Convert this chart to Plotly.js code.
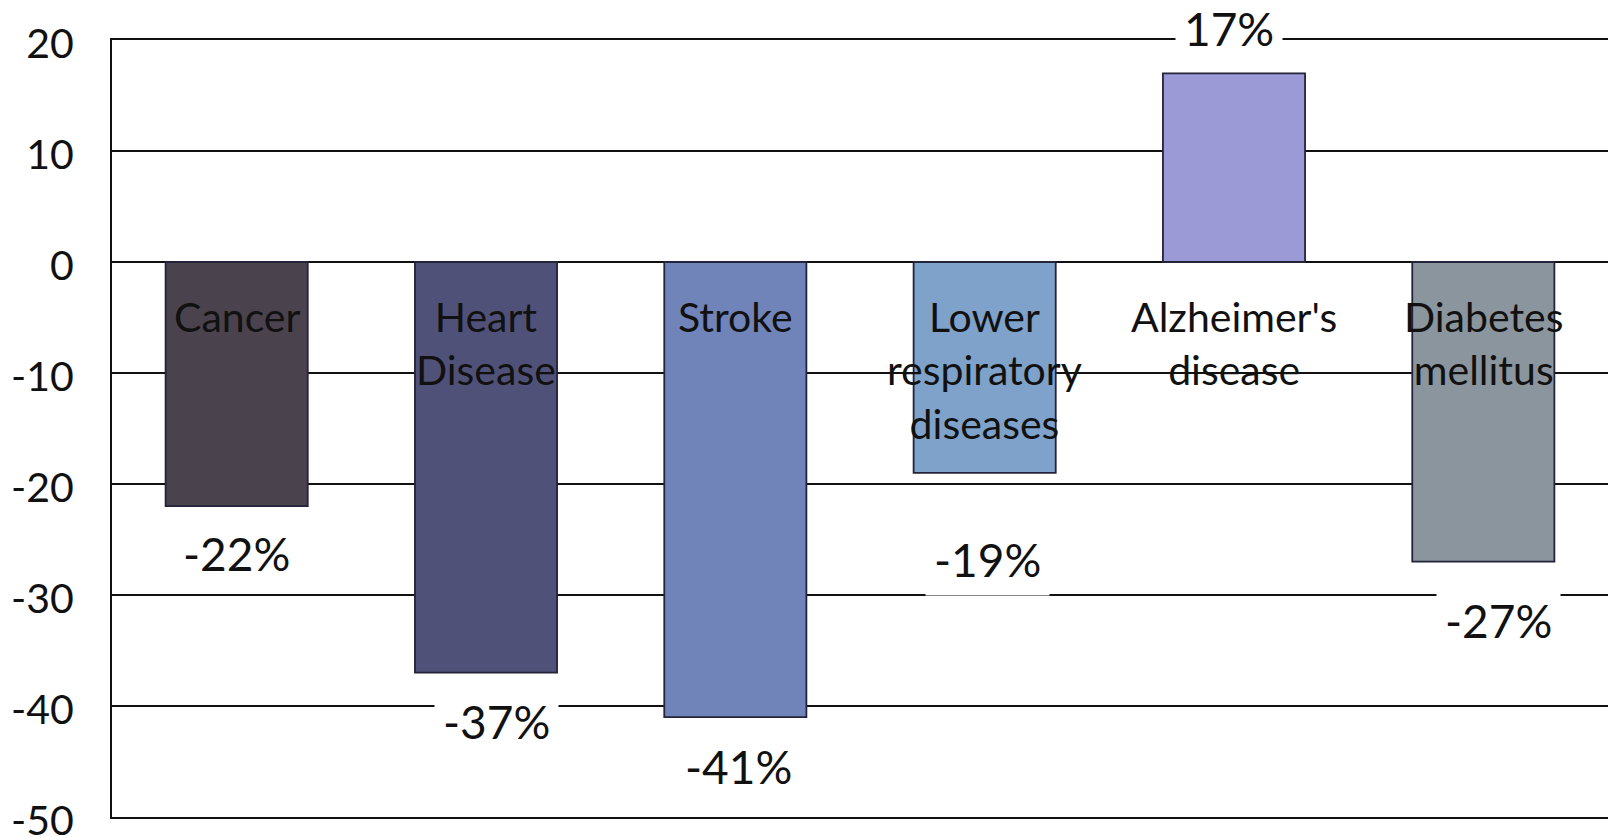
<!DOCTYPE html>
<html>
<head>
<meta charset="utf-8">
<script src="https://cdn.plot.ly/plotly-3.0.1.min.js"></script>
<style>
  html, body { margin: 0; padding: 0; background: #ffffff; }
  #chart { width: 1608px; height: 837px; }
</style>
</head>
<body>
<div id="chart"></div>
<script>
// ---- data ----
const categories = ["Cancer", "Heart Disease", "Stroke", "Lower respiratory diseases", "Alzheimer's disease", "Diabetes mellitus"];
const categoryLabels = ["Cancer", "Heart<br>Disease", "Stroke", "Lower<br>respiratory<br>diseases", "Alzheimer's<br>disease", "Diabetes<br>mellitus"];
const changePct = [-22, -37, -41, -19, 17, -27];
const valueLabels = ["-22%", "-37%", "-41%", "-19%", "17%", "-27%"];
const yTickVals = [20, 10, 0, -10, -20, -30, -40, -50];
const yTickText = ["20", "10", "0", "-10", "-20", "-30", "-40", "-50"];

// ---- styles ----
const barColors = ["#4a434d", "#505178", "#7184b9", "#7ea2c9", "#9b9ad6", "#8a959e"];
const labelShiftX = [0, 10, 3, 3, -5, 15];
const labelShiftY = [-47, -49, -49, -87, 45, -59];
const FONT = "Lato, 'Open Sans', sans-serif";

const trace = {
  type: "bar",
  x: categories,
  y: changePct,
  width: 0.57,
  marker: {
    color: barColors,
    line: { color: "#23233a", width: 1.8 }
  },
  hoverinfo: "skip"
};

const annotations = [];
categories.forEach((c, i) => {
  annotations.push({
    x: c, y: 0, xref: "x", yref: "y",
    yanchor: "top", yshift: -28,
    text: categoryLabels[i],
    showarrow: false,
    font: { family: FONT, size: 41, color: "#111111" },
    align: "center"
  });
  annotations.push({
    x: c, y: changePct[i], xref: "x", yref: "y",
    yanchor: "middle", xshift: labelShiftX[i], yshift: labelShiftY[i],
    text: valueLabels[i],
    showarrow: false,
    bgcolor: "#ffffff",
    borderpad: 8,
    font: { family: FONT, size: 46, color: "#111111" }
  });
});

const layout = {
  width: 1608, height: 837,
  margin: { l: 112, r: 0, t: 40, b: 20, pad: 0 },
  paper_bgcolor: "#ffffff",
  plot_bgcolor: "#ffffff",
  showlegend: false,
  bargap: 0.43,
  xaxis: {
    type: "category",
    range: [-0.5, 5.5],
    showticklabels: false,
    showgrid: false,
    zeroline: false,
    showline: true, mirror: true,
    linecolor: "#111111", linewidth: 2,
    ticks: ""
  },
  yaxis: {
    range: [-50, 20],
    tickmode: "array",
    tickvals: yTickVals,
    ticktext: yTickText,
    showgrid: true, gridcolor: "#111111", gridwidth: 2,
    zeroline: true, zerolinecolor: "#111111", zerolinewidth: 2,
    showline: true, linecolor: "#111111", linewidth: 2,
    ticks: "outside", ticklen: 28, tickcolor: "rgba(0,0,0,0)",
    ticklabeloverflow: "allow",
    ticklabelshift: 4,
    tickfont: { family: FONT, size: 41, color: "#111111" }
  },
  annotations: annotations
};

Plotly.newPlot("chart", [trace], layout, { displayModeBar: false, staticPlot: true });
</script>
</body>
</html>
